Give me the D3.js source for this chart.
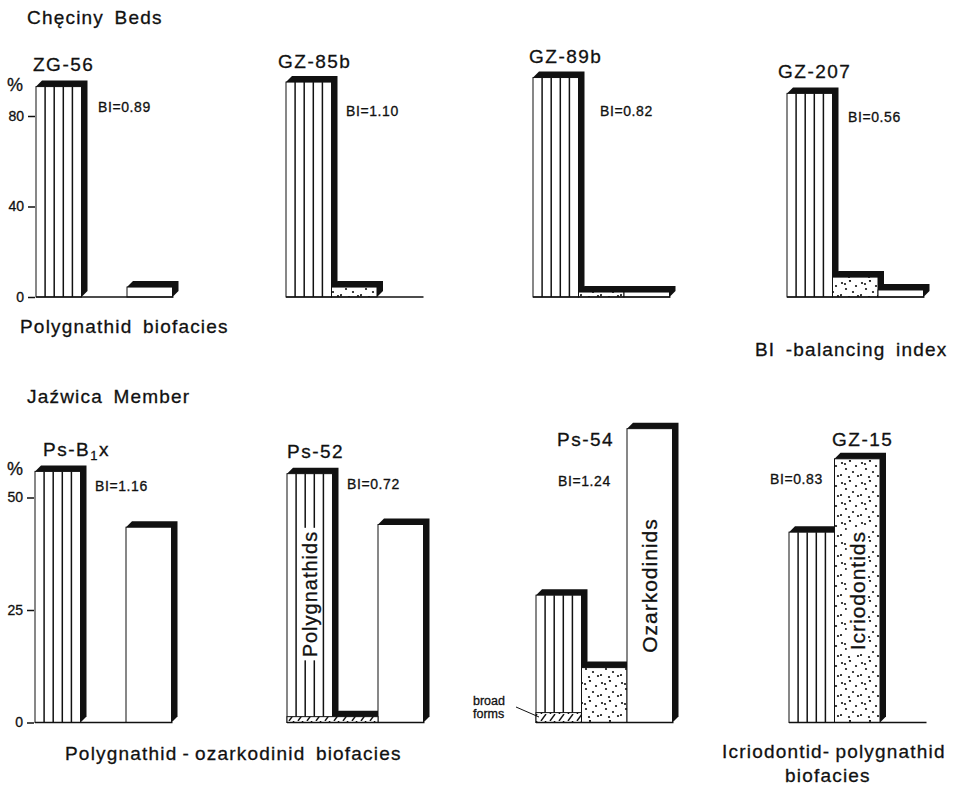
<!DOCTYPE html>
<html>
<head>
<meta charset="utf-8">
<script src="https://cdn.jsdelivr.net/npm/d3@7"></script>
<style>
  body { margin: 0; background: #fff; }
  text { font-family: "Liberation Sans", Arial, sans-serif; fill: #111; stroke: #111; stroke-width: 0.3px; }
</style>
</head>
<body>
<svg id="chart" width="959" height="787"></svg>
<script>
const categories = ['Polygnathids', 'Icriodontids', 'Ozarkodinids'];

// Chęciny Beds (percent)
const topSamples = ['ZG-56', 'GZ-85b', 'GZ-89b', 'GZ-207'];
const topBI = ['0.89', '1.10', '0.82', '0.56'];
const topPolygnathids = [93, 95, 97, 90];
const topIcriodontids = [0, 4.4, 2.2, 8.8];
const topOzarkodinids = [4.4, 0, 2.2, 3.1];
const topTicks = [0, 40, 80];

// Jaźwica Member (percent)
const botSamples = ['Ps-B1x', 'Ps-52', 'Ps-54', 'GZ-15'];
const botBI = ['1.16', '0.72', '1.24', '0.83'];
const botPolygnathids = [55.8, 55.3, 28.3, 42.3];
const botIcriodontids = [0, 1.3, 12.2, 58.6];
const botOzarkodinids = [43.4, 44, 65.3, 0];
const botBroadForms = [0, 1.3, 2.2, 0];
const botBroadSlots = [1, 2, 1, 1];
const botTicks = [0, 25, 50];

const D = 6;          // depth of the black extrusion
const slot = 45.5;    // width of one bar

const svg = d3.select('#chart');
const defs = svg.append('defs');

// stipple for icriodontids
const dots = defs.append('pattern').attr('id', 'dots')
    .attr('patternUnits', 'userSpaceOnUse').attr('width', 20).attr('height', 20);
dots.append('rect').attr('width', 20).attr('height', 20).attr('fill', '#fff');
[[2,3],[10,1],[16,6],[6,9],[13,12],[1,15],[9,17],[18,16],[5,4]]
    .forEach(p => dots.append('circle').attr('cx', p[0]).attr('cy', p[1]).attr('r', 1.1).attr('fill', '#111'));

// hatching for broad forms
const hatch = defs.append('pattern').attr('id', 'hatch')
    .attr('patternUnits', 'userSpaceOnUse').attr('width', 9).attr('height', 7);
hatch.append('rect').attr('width', 9).attr('height', 7).attr('fill', '#fff');
hatch.append('line').attr('x1', 1).attr('y1', 7).attr('x2', 6).attr('y2', 0)
    .attr('stroke', '#111').attr('stroke-width', 1.4);

const fills = {Polygnathids: '#fff', Icriodontids: 'url(#dots)', Ozarkodinids: '#fff'};

function drawBar(g, x0, x1, yTop, yBase, cat) {
    g.append('path')
        .attr('d', `M${x0},${yTop}L${x0 + D},${yTop - D}L${x1 + D},${yTop - D}L${x1 + D},${yBase - D}L${x1},${yBase}Z`)
        .attr('fill', '#111');
    g.append('rect')
        .attr('x', x0).attr('y', yTop)
        .attr('width', x1 - x0).attr('height', yBase - yTop)
        .attr('fill', fills[cat]).attr('stroke', '#111').attr('stroke-width', 1);
    if (cat === 'Polygnathids') {
        for (let i = 1; i < 5; i++) {
            let xx = x0 + i * (x1 - x0) / 5;
            g.append('line').attr('x1', xx).attr('x2', xx).attr('y1', yTop).attr('y2', yBase)
                .attr('stroke', '#111').attr('stroke-width', 1.5);
        }
    }
}

function drawPanel(p) {
    const g = svg.append('g');
    const x = d3.scaleBand().domain(categories).range([p.x0, p.x0 + 3 * slot]).padding(0);
    const y = p.y;
    const vals = [p.pol, p.icr, p.oza];

    categories.forEach((c, i) => {
        if (vals[i] > 0) drawBar(g, x(c), x(c) + x.bandwidth(), y(vals[i]), y(0), c);
    });

    if (p.broad > 0) {
        g.append('rect')
            .attr('x', x(categories[0])).attr('y', y(p.broad))
            .attr('width', x.bandwidth() * p.broadSlots).attr('height', y(0) - y(p.broad))
            .attr('fill', 'url(#hatch)').attr('stroke', '#111').attr('stroke-width', 1);
    }

    g.append('line')
        .attr('x1', p.x0).attr('x2', p.x0 + 3 * slot + 1)
        .attr('y1', y(0)).attr('y2', y(0))
        .attr('stroke', '#111').attr('stroke-width', 1.5);

    if (p.ticks) {
        const ax = g.append('g').attr('transform', `translate(${p.x0 - 1},0)`)
            .call(d3.axisLeft(y).tickValues(p.ticks).tickSize(7).tickPadding(4));
        ax.select('.domain').remove();
        ax.selectAll('line').attr('stroke', '#111').attr('stroke-width', 1.5);
        ax.selectAll('text').style('font-size', '14px').style('font-family', '"Liberation Sans", Arial, sans-serif')
            .attr('fill', '#111');
        g.append('text').attr('x', 7).attr('y', y(p.pctAt)).style('font-size', '18px').text('%');
    }

    const title = g.append('text').attr('x', p.tx).attr('y', p.ty)
        .style('font-size', '19px').style('letter-spacing', '1.5px');
    if (p.name === 'Ps-B1x') {
        title.append('tspan').text('Ps-B');
        title.append('tspan').attr('dy', 4).style('font-size', '13px').text('1');
        title.append('tspan').attr('dy', -4).text('x');
    } else {
        title.text(p.name);
    }

    g.append('text').attr('x', p.bx).attr('y', p.by)
        .style('font-size', '14px').style('letter-spacing', '0.6px')
        .text('BI=' + p.bi);
}

const topY = d3.scaleLinear().domain([0, 100]).range([297, 297 - 226.25]);
const botY = d3.scaleLinear().domain([0, 50]).range([722.5, 722.5 - 225]);

const topLayout = [
    {x0: 36, tx: 33, ty: 71, bx: 98, by: 112},
    {x0: 286, tx: 278, ty: 68, bx: 346, by: 116},
    {x0: 533, tx: 529, ty: 63, bx: 600, by: 116},
    {x0: 787, tx: 778, ty: 78, bx: 848, by: 122}
];
const botLayout = [
    {x0: 35, tx: 43, ty: 456, bx: 95, by: 491},
    {x0: 287, tx: 287, ty: 458, bx: 347, by: 489},
    {x0: 536, tx: 557, ty: 446, bx: 558, by: 486},
    {x0: 789, tx: 832, ty: 446, bx: 770, by: 484}
];

topSamples.forEach((s, i) => drawPanel(Object.assign({
    name: s, bi: topBI[i], y: topY,
    pol: topPolygnathids[i], icr: topIcriodontids[i], oza: topOzarkodinids[i],
    broad: 0, broadSlots: 1, ticks: i === 0 ? topTicks : null, pctAt: 91
}, topLayout[i])));

botSamples.forEach((s, i) => drawPanel(Object.assign({
    name: s, bi: botBI[i], y: botY,
    pol: botPolygnathids[i], icr: botIcriodontids[i], oza: botOzarkodinids[i],
    broad: botBroadForms[i], broadSlots: botBroadSlots[i],
    ticks: i === 0 ? botTicks : null, pctAt: 55
}, botLayout[i])));

// vertical labels inside bars
function barLabel(cx, cy, txt, size) {
    const g = svg.append('g').attr('transform', `translate(${cx},${cy}) rotate(-90)`);
    const t = g.append('text').attr('text-anchor', 'middle').attr('dy', '0.36em')
        .style('font-size', size + 'px').style('letter-spacing', '1px').text(txt);
    const bb = t.node().getBBox();
    g.insert('rect', 'text').attr('x', bb.x - 3).attr('y', bb.y + 1)
        .attr('width', bb.width + 6).attr('height', bb.height - 2).attr('fill', '#fff');
}
{
    const xb = d3.scaleBand().domain(categories).range([287, 287 + 3 * slot]);
    barLabel(xb('Polygnathids') + slot / 2, (botY(botPolygnathids[1]) + botY(0)) / 2 - 4, 'Polygnathids', 20);
    const xc = d3.scaleBand().domain(categories).range([536, 536 + 3 * slot]);
    barLabel(xc('Ozarkodinids') + slot / 2, (botY(botOzarkodinids[2]) + botY(0)) / 2 + 10, 'Ozarkodinids', 21);
    const xd = d3.scaleBand().domain(categories).range([789, 789 + 3 * slot]);
    barLabel(xd('Icriodontids') + slot / 2, (botY(botIcriodontids[3]) + botY(0)) / 2, 'Icriodontids', 21);

    // broad forms note
    svg.append('text').attr('x', 473).attr('y', 705).style('font-size', '12.5px').text('broad');
    svg.append('text').attr('x', 473).attr('y', 718).style('font-size', '12.5px').text('forms');
    svg.append('line').attr('x1', 516).attr('y1', 707).attr('x2', 539).attr('y2', 717)
        .attr('stroke', '#111').attr('stroke-width', 1);
}

// headings and captions
const big = (x, y, t) => svg.append('text').attr('x', x).attr('y', y)
    .style('font-size', '19px').style('letter-spacing', '1.2px').style('word-spacing', '4px').text(t);
big(27, 24, 'Chęciny Beds');
big(20, 333, 'Polygnathid biofacies');
big(755, 356, 'BI -balancing index');
big(27, 403, 'Jaźwica Member');
big(65, 760, 'Polygnathid\u2009-\u2009ozarkodinid biofacies');
big(722, 758, 'Icriodontid-\u2009polygnathid');
big(785, 782, 'biofacies');
</script>
</body>
</html>
